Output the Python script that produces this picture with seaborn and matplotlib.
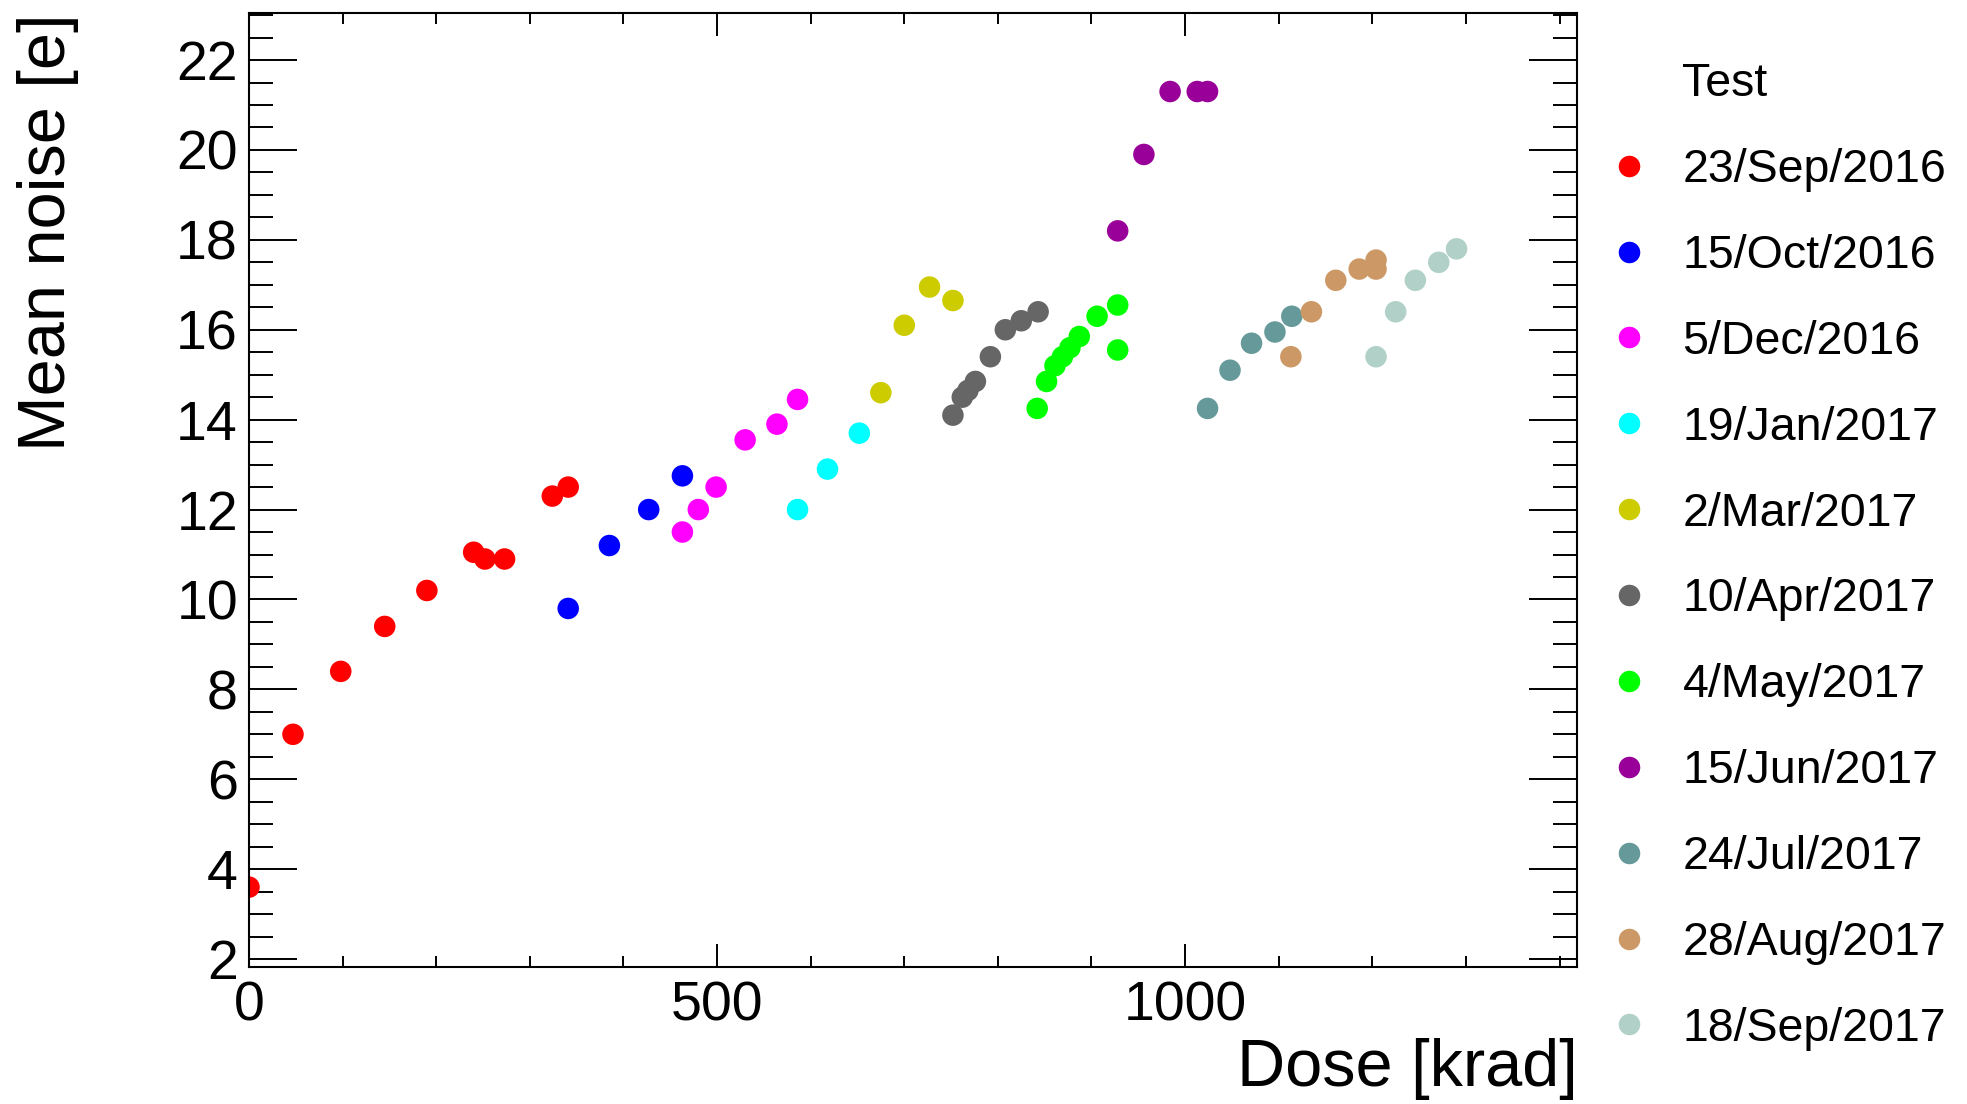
import pandas as pd
import seaborn as sns
import matplotlib
matplotlib.use('Agg')
import matplotlib.pyplot as plt
from matplotlib.ticker import MultipleLocator

# one list of doses [krad] and mean noises [e] per test campaign
tests = ['23/Sep/2016', '15/Oct/2016', '5/Dec/2016', '19/Jan/2017', '2/Mar/2017',
         '10/Apr/2017', '4/May/2017', '15/Jun/2017', '24/Jul/2017', '28/Aug/2017',
         '18/Sep/2017']
colors = ['#ff0000', '#0000ff', '#ff00ff', '#00ffff', '#cccc00', '#666666',
          '#00ff00', '#990099', '#669999', '#cc9966', '#b0d0c8']

dose_sep16 = [0, 47, 98, 145, 190, 240, 252, 273, 324, 341]
noise_sep16 = [3.6, 7.0, 8.4, 9.4, 10.2, 11.05, 10.9, 10.9, 12.3, 12.5]
dose_oct16 = [341, 385, 427, 463]
noise_oct16 = [9.8, 11.2, 12.0, 12.75]
dose_dec16 = [463, 480, 499, 530, 564, 586]
noise_dec16 = [11.5, 12.0, 12.5, 13.55, 13.9, 14.45]
dose_jan17 = [586, 618, 652]
noise_jan17 = [12.0, 12.9, 13.7]
dose_mar17 = [675, 700, 727, 752]
noise_mar17 = [14.6, 16.1, 16.95, 16.65]
dose_apr17 = [752, 762, 768, 776, 792, 808, 825, 843]
noise_apr17 = [14.1, 14.5, 14.65, 14.85, 15.4, 16.0, 16.2, 16.4]
dose_may17 = [842, 852, 861, 869, 877, 887, 906, 928, 928]
noise_may17 = [14.25, 14.85, 15.2, 15.4, 15.6, 15.85, 16.3, 16.55, 15.55]
dose_jun17 = [928, 956, 984, 1013, 1024]
noise_jun17 = [18.2, 19.9, 21.3, 21.3, 21.3]
dose_jul17 = [1024, 1048, 1071, 1096, 1114]
noise_jul17 = [14.25, 15.1, 15.7, 15.95, 16.3]
dose_aug17 = [1113, 1135, 1161, 1186, 1204, 1204]
noise_aug17 = [15.4, 16.4, 17.1, 17.35, 17.35, 17.55]
dose_sep17 = [1204, 1225, 1246, 1271, 1290]
noise_sep17 = [15.4, 16.4, 17.1, 17.5, 17.8]

doses = [dose_sep16, dose_oct16, dose_dec16, dose_jan17, dose_mar17, dose_apr17,
         dose_may17, dose_jun17, dose_jul17, dose_aug17, dose_sep17]
noises = [noise_sep16, noise_oct16, noise_dec16, noise_jan17, noise_mar17, noise_apr17,
          noise_may17, noise_jun17, noise_jul17, noise_aug17, noise_sep17]

data = pd.concat([pd.DataFrame({'Dose': d, 'Noise': n, 'Test': t})
                  for d, n, t in zip(doses, noises, tests)], ignore_index=True)

sns.set_style('white')
plt.rcParams['font.family'] = ['Liberation Sans', 'DejaVu Sans']
plt.rcParams['text.color'] = 'black'
plt.rcParams['axes.labelcolor'] = 'black'
plt.rcParams['xtick.color'] = 'black'
plt.rcParams['ytick.color'] = 'black'

W, H = 1967, 1104
fig = plt.figure(figsize=(W / 100, H / 100), dpi=100)
ax = fig.add_axes([249 / W, 1 - 966.7 / H, (1577.3 - 249) / W, (966.7 - 13.3) / H])

sns.scatterplot(data=data, x='Dose', y='Noise', hue='Test', hue_order=tests,
                palette=colors, s=240, marker='o', linewidth=0, ax=ax)

ax.set_xlim(0, 1419)
ax.set_ylim(1.83, 23.04)
ax.xaxis.set_major_locator(MultipleLocator(500))
ax.xaxis.set_minor_locator(MultipleLocator(100))
ax.yaxis.set_major_locator(MultipleLocator(2))
ax.yaxis.set_minor_locator(MultipleLocator(0.5))

for sp in ax.spines.values():
    sp.set_linewidth(1.5)
    sp.set_color('black')
ax.tick_params(which='both', direction='in', top=True, right=True, left=True,
               bottom=True, width=1.4, color='black', labelsize=40, labelcolor='black')
ax.tick_params(axis='y', which='major', length=34.5, pad=8)
ax.tick_params(axis='y', which='minor', length=17.3)
ax.tick_params(axis='x', which='major', length=16.5, pad=10)
ax.tick_params(axis='x', which='minor', length=8)

ax.set_xlabel('Dose [krad]', fontsize=48, loc='right')
ax.xaxis.set_label_coords(1.0, -0.075)
ax.set_ylabel('Mean noise [e]', fontsize=48, loc='top')
ax.yaxis.set_label_coords(-0.128, 1.0)

handles, labels = ax.get_legend_handles_labels()
for h in handles:
    h.set_markersize(15.5)
leg = ax.legend(handles, labels, loc='upper left', bbox_to_anchor=(1615 / W, 1 - 148 / H),
                bbox_transform=fig.transFigure, frameon=False, fontsize=33.5,
                borderaxespad=0, borderpad=0, handlelength=0.6, handletextpad=0.85,
                labelspacing=0.9)
fig.text(1682 / W, 1 - 84 / H, 'Test', fontsize=33.5, va='center', ha='left')

fig.savefig('out.png', dpi=100, facecolor='white')
